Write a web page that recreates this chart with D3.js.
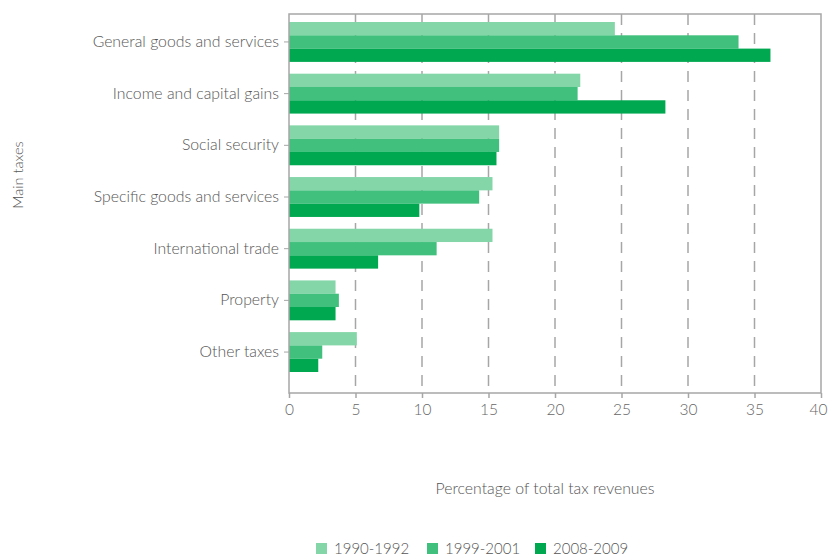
<!DOCTYPE html>
<html><head><meta charset="utf-8">
<script src="https://cdn.jsdelivr.net/npm/d3@7"></script>
<style>body{margin:0;background:#fff;} text{font-family:Lato,"Open Sans",sans-serif;}</style>
</head><body>
<svg id="chart" width="828" height="559"></svg>
<script>
const categories = ["General goods and services","Income and capital gains","Social security","Specific goods and services","International trade","Property","Other taxes"];
const seriesNames = ["1990-1992","1999-2001","2008-2009"];
const s1990 = [24.5, 21.9, 15.8, 15.3, 15.3, 3.5, 5.1];
const s1999 = [33.8, 21.7, 15.8, 14.3, 11.1, 3.75, 2.5];
const s2008 = [36.2, 28.3, 15.6, 9.8, 6.7, 3.5, 2.2];
const colors = ["#84d6a8","#41c07d","#00a850"];
const xTicks = [0,5,10,15,20,25,30,35,40];

const svg = d3.select("#chart");
const L=289, R=821, T=14, B=393;
const x = d3.scaleLinear().domain([0,40]).range([L,R]);
const y = d3.scaleBand().domain(categories).range([22,372]).paddingInner(0.228).paddingOuter(0);
const y2 = d3.scaleBand().domain(seriesNames).range([0,y.bandwidth()]);
const series = [s1990,s1999,s2008];

// grid
svg.append("g").selectAll("line").data(xTicks.filter(d=>d>0&&d<40)).join("line")
  .attr("x1",d=>x(d)).attr("x2",d=>x(d)).attr("y1",T).attr("y2",B)
  .attr("stroke","#a6a6a6").attr("stroke-width",1.5).attr("stroke-dasharray","11,8");

// bars
series.forEach((vals,si)=>{
  svg.append("g").selectAll("rect").data(categories).join("rect")
    .attr("x",x(0)).attr("y",(c)=>y(c)+y2(seriesNames[si]))
    .attr("width",(c,i)=>x(vals[i])-x(0)).attr("height",y2.bandwidth())
    .attr("fill",colors[si]);
});

// frame
svg.append("rect").attr("x",L).attr("y",T).attr("width",R-L).attr("height",B-T)
  .attr("fill","none").attr("stroke","#a6a6a6").attr("stroke-width",1.5);

// x axis
const xa = svg.append("g").attr("transform",`translate(0,${B})`)
  .call(d3.axisBottom(x).tickValues(xTicks).tickSize(5).tickPadding(6));
xa.select(".domain").remove();
xa.selectAll("line").attr("stroke","#a6a6a6").attr("stroke-width",1.5);
xa.selectAll("text").attr("fill","#666").style("font-size","15.5px").style("font-weight","300")
  .attr("dx",d=>d===40?"-3":null);

// y axis
const ya = svg.append("g").attr("transform",`translate(${L},0)`)
  .call(d3.axisLeft(y).tickSize(5).tickPadding(5));
ya.select(".domain").remove();
ya.selectAll("line").attr("stroke","#a6a6a6");
ya.selectAll("text").attr("fill","#555").style("font-size","15.8px").style("font-weight","300");

// axis titles
svg.append("text").attr("x",545).attr("y",494).attr("text-anchor","middle")
  .attr("fill","#555").style("font-size","15.8px").style("font-weight","300").text("Percentage of total tax revenues");
svg.append("text").attr("transform","translate(23,175) rotate(-90)").attr("text-anchor","middle")
  .attr("fill","#555").style("font-size","14.5px").style("font-weight","300").text("Main taxes");

// legend
const legX = [316, 427, 535];
const lg = svg.append("g").selectAll("g").data(seriesNames).join("g")
  .attr("transform",(d,i)=>`translate(${legX[i]},543)`);
lg.append("rect").attr("width",11).attr("height",11).attr("fill",(d,i)=>colors[i]);
lg.append("text").attr("x",18).attr("y",10.5).attr("fill","#555")
  .style("font-size","15px").style("font-weight","300").text(d=>d);
</script>
</body></html>
